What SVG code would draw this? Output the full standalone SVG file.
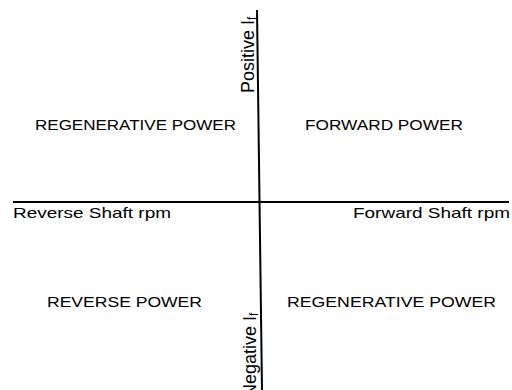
<svg xmlns="http://www.w3.org/2000/svg" width="512" height="390" viewBox="0 0 512 390">
  <style>
    .axis { stroke: #000; stroke-width: 2; fill: none; }
    .quad { font-family: "Liberation Sans", Arial, sans-serif; font-size: 15.5px; fill: #000; }
    .lbl { font-family: "Liberation Sans", Arial, sans-serif; font-size: 15px; fill: #000; }
    .vlbl { font-family: "Liberation Sans", Arial, sans-serif; font-size: 18px; fill: #000; }
    .sub { font-size: 12px; }
  </style>
  <rect width="512" height="390" fill="#fff"/>

  <!-- axes -->
  <g id="axes">
    <line class="axis" x1="13" y1="202" x2="509" y2="202"/>
    <line class="axis" x1="257" y1="10" x2="262" y2="390"/>
  </g>

  <!-- axis labels -->
  <g id="axis-labels">
    <text class="lbl" x="13" y="218" textLength="158" lengthAdjust="spacingAndGlyphs">Reverse Shaft rpm</text>
    <text class="lbl" x="510" y="218" text-anchor="end" textLength="157" lengthAdjust="spacingAndGlyphs">Forward Shaft rpm</text>
    <text class="vlbl" transform="translate(254,93) rotate(-90)">Positive I<tspan class="sub" dy="2">f</tspan></text>
    <text class="vlbl" transform="translate(256,397) rotate(-90)">Negative I<tspan class="sub" dy="2">f</tspan></text>
  </g>

  <!-- quadrant labels -->
  <g id="q-regen-top">
    <text class="quad" x="35" y="130" textLength="201" lengthAdjust="spacingAndGlyphs">REGENERATIVE POWER</text>
  </g>
  <g id="q-forward">
    <text class="quad" x="305" y="130" textLength="158" lengthAdjust="spacingAndGlyphs">FORWARD POWER</text>
  </g>
  <g id="q-reverse">
    <text class="quad" x="47" y="307" textLength="155" lengthAdjust="spacingAndGlyphs">REVERSE POWER</text>
  </g>
  <g id="q-regen-bottom">
    <text class="quad" x="287" y="307" textLength="209" lengthAdjust="spacingAndGlyphs">REGENERATIVE POWER</text>
  </g>
</svg>
